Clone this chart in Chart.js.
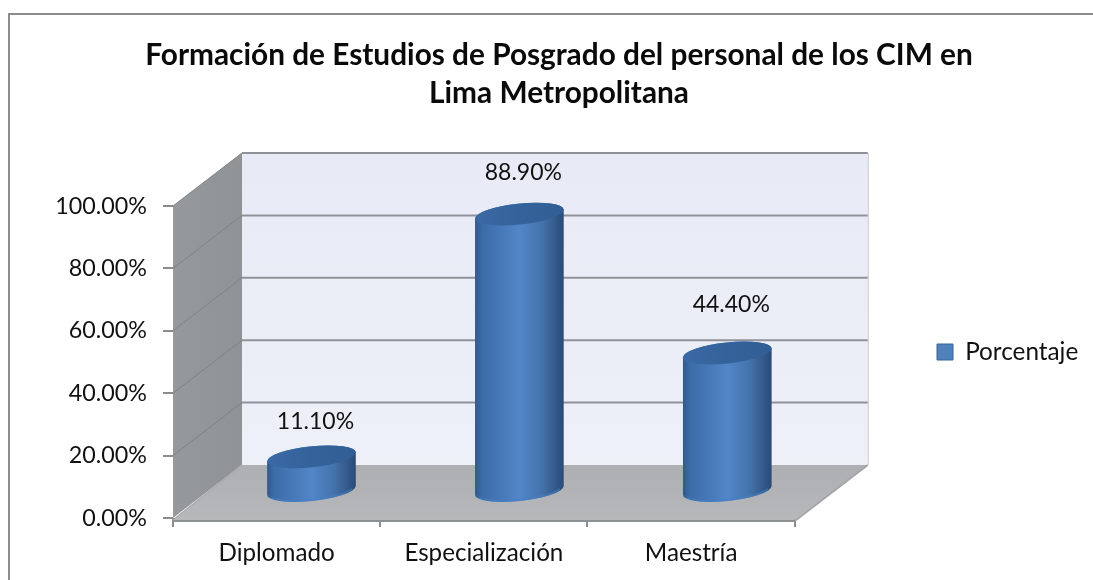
<!DOCTYPE html>
<html><head><meta charset="utf-8">
<style>html,body{margin:0;padding:0;background:#fff}#w{position:relative;width:1093px;height:580px}</style>
<script src="https://cdn.jsdelivr.net/npm/chart.js@4"></script>
</head><body><div id="w"><canvas id="c" width="1093" height="580"></canvas></div>
<script>
const categories = ['Diplomado', 'Especialización', 'Maestría'];
const seriesName = 'Porcentaje';
const porcentaje = [11.1, 88.9, 44.4];
const titleLines = ['Formación de Estudios de Posgrado del personal de los CIM en', 'Lima Metropolitana'];
const yTicks = [0, 20, 40, 60, 80, 100];

const FONT = 'Lato, Carlito, Calibri, sans-serif';
const DEPTH = {dx: 69, dy: -53, spread: 4};
const labelLift = [35, 42, 48];
const labelNudge = 4;

const scene = {
  id: 'scene',
  beforeDraw(chart) {
    const c = chart.ctx;
    c.save();
    c.fillStyle = '#fff'; c.fillRect(0, 0, chart.width, chart.height);
    c.strokeStyle = '#8c8c8c'; c.lineWidth = 2;
    c.beginPath(); c.moveTo(9, chart.height); c.lineTo(9, 14); c.lineTo(chart.width, 14); c.stroke();
    c.restore();
  },
  afterLayout(chart) {
    const l = chart.legend, t = chart.titleBlock;
    const dx = 937 - l.left - l.options.labels.padding;
    const dy = 352 - (l.top + l.bottom) / 2;
    l.left += dx; l.right += dx; l.top += dy; l.bottom += dy;
    t.left += 83; t.right += 83;
  },
  beforeDatasetsDraw(chart) {
    const c = chart.ctx, x = chart.scales.x, y = chart.scales.y;
    const L = x.left, R = x.right, B = y.getPixelForValue(0), T = y.getPixelForValue(100);
    const d = DEPTH, BR = R + d.dx + d.spread;
    c.save();
    // back wall
    let g = c.createLinearGradient(0, T + d.dy, 0, B + d.dy);
    g.addColorStop(0, '#e8ebf6'); g.addColorStop(1, '#edf0f7');
    c.fillStyle = g;
    c.fillRect(L + d.dx, T + d.dy, BR - L - d.dx, B - T);
    c.strokeStyle = '#c4c6c9'; c.lineWidth = 1;
    c.beginPath(); c.moveTo(BR + .5, T + d.dy); c.lineTo(BR + .5, B + d.dy); c.stroke();
    // side wall
    g = c.createLinearGradient(L, 0, L + d.dx, 0);
    g.addColorStop(0, '#96999c'); g.addColorStop(1, '#8f9396');
    c.fillStyle = g;
    c.beginPath(); c.moveTo(L, T); c.lineTo(L + d.dx, T + d.dy); c.lineTo(L + d.dx, B + d.dy); c.lineTo(L, B); c.closePath(); c.fill();
    // floor
    g = c.createLinearGradient(0, B + d.dy, 0, B + 3);
    g.addColorStop(0, '#adafb2'); g.addColorStop(1, '#b6b8ba');
    c.fillStyle = g;
    c.beginPath(); c.moveTo(L, B + 2); c.lineTo(L + d.dx, B + d.dy); c.lineTo(BR, B + d.dy); c.lineTo(R, B + 2); c.closePath(); c.fill();
    // grid lines
    for (const v of yTicks) {
      const py = y.getPixelForValue(v);
      if (v > 0) {
        c.strokeStyle = '#7f8386'; c.lineWidth = 1;
        c.beginPath(); c.moveTo(L, py); c.lineTo(L + d.dx, py + d.dy); c.stroke();
        c.strokeStyle = '#8f9399'; c.lineWidth = 2;
        c.beginPath(); c.moveTo(L + d.dx, py + d.dy); c.lineTo(BR, py + d.dy); c.stroke();
      }
    }
    // floor edges
    c.strokeStyle = '#a9abae'; c.lineWidth = 1.5;
    c.beginPath(); c.moveTo(L, B + 2); c.lineTo(L + d.dx, B + d.dy); c.stroke();
    c.strokeStyle = '#a3a5a8'; c.lineWidth = 2;
    c.beginPath(); c.moveTo(R, B + 3); c.lineTo(BR, B + d.dy); c.stroke();
    c.strokeStyle = '#8e9194'; c.lineWidth = 2;
    c.beginPath(); c.moveTo(L, B + 3); c.lineTo(R, B + 3); c.stroke();
    c.restore();
  },
  beforeDatasetDraw(chart, args) {
    const c = chart.ctx, meta = args.meta, d = DEPTH, xs = chart.scales.x;
    const rot = -6 * Math.PI / 180, ry = 10.5;
    c.save();
    meta.data.forEach((el, i) => {
      const cx = el.x + d.dx / 2 + (el.x - xs.left) / (xs.right - xs.left) * d.spread / 2, rx = el.width / 2;
      const topY = el.y + d.dy / 2, baseY = el.base + d.dy / 2;
      const t0 = Math.atan(-(ry / rx) * Math.tan(rot));
      const g = c.createLinearGradient(cx - rx, 0, cx + rx, 0);
      g.addColorStop(0, '#31598c'); g.addColorStop(.08, '#3c6ba6'); g.addColorStop(.5, '#5286c9');
      g.addColorStop(.75, '#4473ab'); g.addColorStop(.94, '#305483'); g.addColorStop(1, '#2b4a73');
      c.fillStyle = g;
      c.beginPath();
      c.ellipse(cx, baseY, rx, ry, rot, t0, t0 + Math.PI);
      c.ellipse(cx, topY, rx, ry, rot, t0 + Math.PI, t0 + 2 * Math.PI);
      c.closePath(); c.fill();
      // lit rim at the bottom of the cylinder
      c.strokeStyle = 'rgba(70,125,195,.55)'; c.lineWidth = 2;
      c.beginPath(); c.ellipse(cx, baseY - 1, rx - 1, ry, rot, t0 + .35, t0 + Math.PI - .35); c.stroke();
      // cap
      const cg = c.createLinearGradient(cx - rx, 0, cx + rx, 0);
      cg.addColorStop(0, '#3a6aa5'); cg.addColorStop(.5, '#34629a'); cg.addColorStop(1, '#315e95');
      c.fillStyle = cg;
      c.beginPath(); c.ellipse(cx, topY, rx, ry, rot, 0, 2 * Math.PI); c.fill();
      // value label
      c.fillStyle = '#111'; c.font = '23px ' + FONT; c.textAlign = 'center'; c.textBaseline = 'middle';
      c.fillText(porcentaje[i].toFixed(2) + '%', cx + labelNudge, topY - labelLift[i]);
    });
    c.restore();
    return false;
  }
};

new Chart(document.getElementById('c'), {
  type: 'bar',
  data: {
    labels: categories,
    datasets: [{label: seriesName, data: porcentaje, backgroundColor: '#4F81BD', borderColor: '#3a6494', borderWidth: 1,
      categoryPercentage: 1, barPercentage: 0.43}]
  },
  plugins: [scene],
  options: {
    responsive: false,
    animation: false,
    layout: {padding: {left: 0, right: 141, top: 0, bottom: 0}},
    plugins: {
      tooltip: {enabled: false},
      title: {display: true, text: titleLines, color: '#0a0a0a',
        font: {family: FONT, size: 29.8, weight: 'bold', lineHeight: 1.275},
        padding: {top: 36, bottom: 94}},
      legend: {display: true, position: 'right', align: 'center',
        labels: {boxWidth: 16, boxHeight: 16, padding: 6, color: '#111', font: {family: FONT, size: 24.3}}}
    },
    scales: {
      x: {type: 'category', offset: true,
        grid: {offset: true, drawOnChartArea: false, drawTicks: true, tickLength: 9, color: '#8c8c8c', lineWidth: 2},
        border: {display: false},
        ticks: {color: '#111', font: {family: FONT, size: 24.2}, padding: 12, maxRotation: 0},
        afterFit(s) { s.height = 62; }},
      y: {type: 'linear', min: 0, max: 100,
        afterBuildTicks(s) { s.ticks = yTicks.map(v => ({value: v})); },
        grid: {drawOnChartArea: false, drawTicks: true, tickLength: 10, color: '#8c8c8c', lineWidth: 2},
        border: {display: false},
        ticks: {color: '#111', font: {family: FONT, size: 23.3}, padding: 16, callback: v => v.toFixed(2) + '%'},
        afterFit(s) { s.width = 173; }}
    }
  }
});
</script></body></html>
